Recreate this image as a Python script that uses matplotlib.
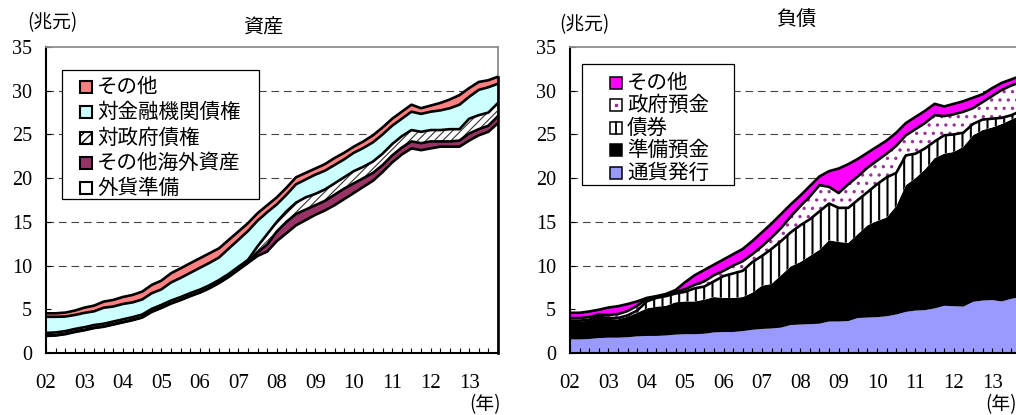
import numpy as np
import matplotlib
matplotlib.use("Agg")
import matplotlib.pyplot as plt
from matplotlib.patches import Rectangle
from matplotlib.lines import Line2D

W, H = 1016, 415

# quarterly observations, 2002Q1 ... 2013Q4
quarters = np.arange(48)
year_ticks = np.arange(0, 48, 4)
year_labels = ["02", "03", "04", "05", "06", "07", "08", "09", "10", "11", "12", "13"]

# ---- 資産 (兆元) ----
fx_reserves = [1.95, 2.0, 2.15, 2.4, 2.6, 2.85, 3.0, 3.25, 3.5, 3.75, 4.05, 4.7,
               5.15, 5.65, 6.05, 6.5, 6.9, 7.4, 8.0, 8.7, 9.5, 10.3, 11.1, 11.6,
               12.8, 13.7, 14.6, 15.2, 15.8, 16.3, 16.9, 17.6, 18.3, 19.0, 19.7, 20.7,
               21.8, 22.7, 23.4, 23.2, 23.4, 23.6, 23.6, 23.6, 24.3, 24.9, 25.3, 26.3]
other_foreign = [0.05, 0.05, 0.05, 0.05, 0.05, 0.05, 0.05, 0.05, 0.05, 0.05, 0.05, 0.05,
                 0.05, 0.05, 0.05, 0.05, 0.05, 0.05, 0.05, 0.05, 0.05, 0.05, 0.4, 0.8,
                 1.1, 1.3, 1.3, 1.2, 1.1, 1.1, 1.2, 1.2, 1.1, 1.0, 0.9, 0.8,
                 0.8, 0.8, 0.8, 0.8, 0.8, 0.6, 0.6, 0.7, 0.8, 0.7, 0.7, 0.8]
claims_gov = [0.3, 0.3, 0.3, 0.3, 0.3, 0.3, 0.3, 0.3, 0.3, 0.3, 0.3, 0.3,
              0.3, 0.3, 0.3, 0.3, 0.3, 0.3, 0.3, 0.3, 0.3, 0.3, 0.7, 1.2,
              1.1, 1.2, 1.3, 1.4, 1.3, 1.3, 1.3, 1.3, 1.4, 1.3, 1.3, 1.3,
              1.3, 1.3, 1.3, 1.3, 1.3, 1.3, 1.4, 1.3, 1.7, 1.6, 1.5, 1.5]
claims_fin = [1.84, 1.79, 1.67, 1.6, 1.64, 1.57, 1.83, 1.72, 1.76, 1.69, 1.72, 1.79,
              1.78, 2.07, 2.19, 2.32, 2.49, 2.56, 2.58, 2.89, 3.09, 3.3, 2.94, 2.5,
              2.0, 1.9, 2.1, 2.05, 2.2, 2.15, 2.1, 2.05, 2.1, 2.15, 2.2, 2.2,
              2.1, 2.0, 2.1, 2.05, 2.1, 2.25, 2.4, 2.8, 2.5, 2.9, 2.9, 2.2]
other_assets = [0.4, 0.4, 0.45, 0.5, 0.6, 0.65, 0.7, 0.75, 0.8, 0.85, 0.9, 0.95,
                1.0, 1.05, 1.1, 1.1, 1.1, 1.1, 1.05, 1.0, 0.95, 0.9, 0.85, 0.8,
                0.8, 0.8, 0.8, 0.75, 0.7, 0.75, 0.8, 0.75, 0.7, 0.75, 0.8, 0.8,
                0.8, 0.8, 0.8, 0.65, 0.7, 0.85, 1.0, 1.1, 1.0, 0.9, 0.8, 0.8]

# ---- 負債 (兆元) ----
currency = [1.55, 1.55, 1.6, 1.7, 1.75, 1.75, 1.8, 1.9, 1.95, 1.95, 2.0, 2.1,
            2.15, 2.15, 2.2, 2.35, 2.4, 2.4, 2.5, 2.65, 2.75, 2.8, 2.9, 3.2,
            3.25, 3.3, 3.35, 3.6, 3.6, 3.65, 4.0, 4.05, 4.1, 4.2, 4.4, 4.7,
            4.85, 4.9, 5.1, 5.4, 5.35, 5.3, 5.85, 6.0, 6.05, 5.9, 6.2, 6.4]
reserve_dep = [2.05, 2.05, 2.1, 2.35, 2.15, 2.1, 2.35, 2.7, 3.15, 3.35, 3.4, 3.7,
               3.75, 3.75, 3.9, 4.05, 3.9, 3.9, 3.9, 4.25, 4.95, 5.1, 6.0, 6.7,
               7.15, 7.8, 8.45, 9.3, 9.1, 8.95, 9.6, 10.55, 11.0, 11.3, 12.4, 14.5,
               15.15, 16.1, 17.2, 17.4, 17.65, 18.3, 19.05, 19.5, 19.75, 20.3, 20.5, 20.8]
bonds = [0.1, 0.1, 0.1, 0.1, 0.1, 0.15, 0.15, 0.25, 0.8, 1.0, 1.1, 1.0,
         1.1, 1.5, 1.5, 1.8, 2.5, 2.8, 3.0, 3.5, 3.4, 4.0, 3.9, 3.9,
         4.2, 4.2, 4.4, 4.2, 3.9, 4.0, 3.9, 3.8, 4.2, 4.6, 3.8, 3.4,
         2.8, 2.4, 1.9, 2.1, 2.0, 1.6, 1.3, 1.2, 1.0, 0.7, 0.5, 0.5]
gov_deposits = [0.3, 0.3, 0.3, 0.25, 0.35, 0.45, 0.5, 0.55, 0.3, 0.15, 0.15, 0.2,
                0.3, 0.4, 0.6, 0.7, 0.6, 0.9, 1.1, 0.9, 1.1, 1.3, 1.5, 1.8,
                2.2, 2.6, 3.0, 1.9, 1.7, 2.7, 2.7, 2.8, 2.7, 2.7, 3.1, 2.3,
                2.8, 2.9, 3.0, 2.2, 2.3, 2.4, 1.8, 2.0, 2.6, 3.2, 3.4, 3.3]
other_liab = [0.6, 0.6, 0.65, 0.55, 0.85, 0.9, 0.8, 0.5, 0.1, 0.05, 0.1, 0.2,
              0.8, 1.1, 1.3, 1.2, 1.3, 1.3, 1.4, 1.5, 1.6, 1.6, 1.6, 1.4,
              1.2, 1.2, 1.0, 1.8, 2.8, 2.3, 2.0, 1.7, 1.6, 1.5, 1.5, 1.4,
              1.4, 1.4, 1.3, 1.1, 1.2, 1.2, 1.2, 0.9, 0.9, 0.8, 0.7, 0.7]

SERIF = ["Liberation Serif", "DejaVu Serif"]
JP = ["Noto Sans CJK JP", "DejaVu Sans"]
plt.rcParams["lines.scale_dashes"] = False

fig = plt.figure(figsize=(W / 100, H / 100), dpi=100)


def fx_(px):
    return px / W


def fy_(py):
    return 1 - py / H


def make_axes(left_px, right_px):
    ax = fig.add_axes([fx_(left_px), fy_(353), (right_px - left_px) / W, 306 / H])
    ax.set_xlim(0, 47)
    ax.set_ylim(0, 35)
    ax.set_yticks(np.arange(0, 36, 5))
    ax.set_xticks(year_ticks)
    ax.set_xticklabels(year_labels)
    ax.set_xticks(quarters, minor=True)
    ax.tick_params(axis="x", which="both", direction="in", length=3.6, width=0.8,
                   pad=15, labelsize=15, color="black")
    ax.tick_params(axis="y", direction="in", length=3.6, width=0.8, pad=10,
                   labelsize=14.5, color="black")
    for lab in ax.get_xticklabels() + ax.get_yticklabels():
        lab.set_fontfamily(SERIF)
    for side in ("left", "bottom"):
        ax.spines[side].set_color("black")
        ax.spines[side].set_linewidth(1.5)
    for side in ("top", "right"):
        ax.spines[side].set_color("#8c8c8c")
        ax.spines[side].set_linewidth(1.3)
    for level in (10, 15, 20, 25, 30):
        ax.axhline(level, color="#444444", lw=0.8, dashes=(5.5, 3.5), zorder=0.5)
    return ax


def stack(ax, layers):
    base = np.zeros(len(quarters))
    for values, face, hatch, hcolor, hlw, outline in layers:
        top = base + np.asarray(values)
        with plt.rc_context({"hatch.linewidth": hlw if hlw else 1.0}):
            coll = ax.fill_between(quarters, base, top, facecolor=face,
                                   edgecolor=hcolor if hatch else "none",
                                   hatch=hatch, linewidth=0, zorder=1)
        if hatch and hasattr(coll, "set_hatch_linewidth"):
            coll.set_hatch_linewidth(hlw)
        if outline:
            ax.plot(quarters, top, color="black", lw=1.9, zorder=3,
                    solid_joinstyle="round")
        base = top
    ax.plot([quarters[-1], quarters[-1]], [0, base[-1]], color="black", lw=1.9,
            zorder=3, clip_on=False)


# ---------------- 資産 ----------------
ax1 = make_axes(46, 498)
stack(ax1, [
    (fx_reserves, "white", None, None, 0, True),
    (other_foreign, "#993366", None, None, 0, True),
    (claims_gov, "white", "////", "#333333", 0.8, True),
    (claims_fin, "#CCFFFF", None, None, 0, True),
    (other_assets, "#FF8080", None, None, 0, True),
])

# ---------------- 負債 ----------------
ax2 = make_axes(570, 1021)
stack(ax2, [
    (currency, "#9999FF", None, None, 0, False),
    (reserve_dep, "black", None, None, 0, False),
    (bonds, "white", "||", "black", 1.5, True),
    (gov_deposits, "white", "..", "#993399", 1.2, True),
    (other_liab, "#FF00FF", None, None, 0, True),
])

# titles and unit labels
fig.text(fx_(263), fy_(28), "資産", ha="center", va="center", fontsize=14.5, family=JP)
fig.text(fx_(796), fy_(20), "負債", ha="center", va="center", fontsize=14.5, family=JP)
fig.text(fx_(52), fy_(23), "(兆元)", ha="center", va="center", fontsize=13.5, family=JP)
fig.text(fx_(584), fy_(25), "(兆元)", ha="center", va="center", fontsize=13.5, family=JP)
fig.text(fx_(485), fy_(405), "(年)", ha="center", va="center", fontsize=13.5, family=JP)
fig.text(fx_(1001), fy_(405), "(年)", ha="center", va="center", fontsize=13.5, family=JP)


def legend(box, rows_y, sq_x, sq_size, sq_lw, text_x, entries):
    x0, y0, x1, y1 = box
    fig.add_artist(Rectangle((fx_(x0), fy_(y1)), (x1 - x0) / W, (y1 - y0) / H,
                             transform=fig.transFigure, facecolor="white",
                             edgecolor="black", lw=0.9, zorder=10))
    for y, (label, face, kind) in zip(rows_y, entries):
        hatch = "////" if kind == "diag" else None
        fig.add_artist(Rectangle((fx_(sq_x), fy_(y + sq_size / 2)), sq_size / W,
                                 sq_size / H, transform=fig.transFigure,
                                 facecolor=face, edgecolor="black", lw=sq_lw,
                                 hatch=hatch, zorder=11))
        cx = sq_x + sq_size / 2
        if kind == "vbar":
            fig.add_artist(Line2D([fx_(cx), fx_(cx)],
                                  [fy_(y - sq_size / 2), fy_(y + sq_size / 2)],
                                  transform=fig.transFigure, color="black",
                                  lw=1.3, zorder=12))
        if kind == "dot":
            fig.add_artist(Line2D([fx_(cx)], [fy_(y)], transform=fig.transFigure,
                                  marker="s", ms=1.8, color="#993399", lw=0,
                                  zorder=12))
        fig.text(fx_(text_x), fy_(y), label, ha="left", va="center",
                 fontsize=14.8, family=JP, zorder=12)


legend((62, 70, 259, 199), [87, 112, 138, 163, 188], 80, 12, 1.5, 97, [
    ("その他", "#FF8080", None),
    ("対金融機関債権", "#CCFFFF", None),
    ("対政府債権", "white", "diag"),
    ("その他海外資産", "#993366", None),
    ("外貨準備", "white", None),
])
legend((582, 64, 734, 185), [83, 105, 128, 150, 173], 610, 12, 1.1, 627, [
    ("その他", "#FF00FF", None),
    ("政府預金", "white", "dot"),
    ("債券", "white", "vbar"),
    ("準備預金", "black", None),
    ("通貨発行", "#9999FF", None),
])

fig.savefig("out.png", dpi=100)
